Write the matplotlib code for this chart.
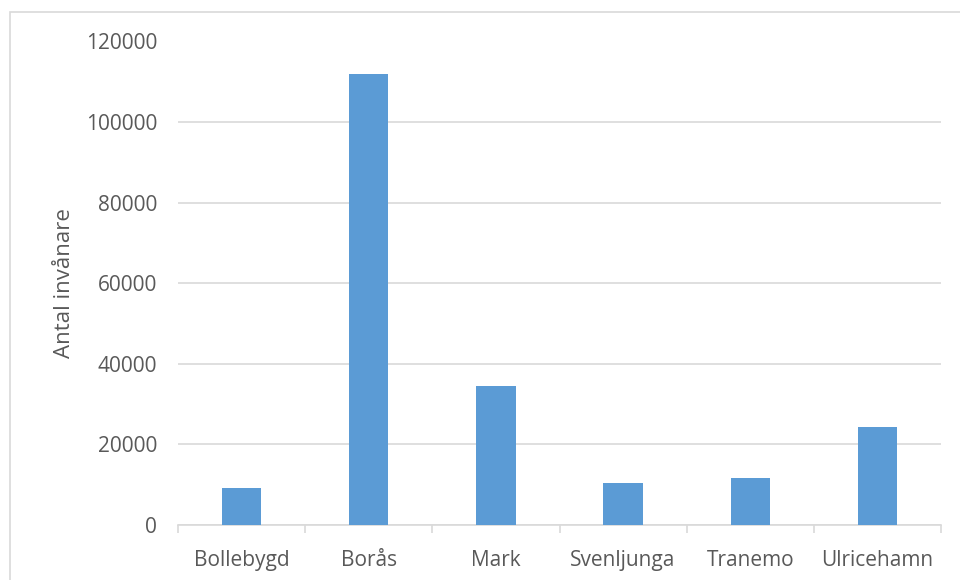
import matplotlib

matplotlib.use("Agg")

import matplotlib.pyplot as plt
import numpy as np
from matplotlib.patches import Rectangle

# Population per municipality
kommuner = ["Bollebygd", "Borås", "Mark", "Svenljunga", "Tranemo", "Ulricehamn"]
invanare = [9200, 112000, 34600, 10400, 11700, 24300]
yticks = [0, 20000, 40000, 60000, 80000, 100000, 120000]

TEXT = "#595959"
GRID = "#d9d9d9"
BAR = "#5b9bd5"

plt.rcParams["font.family"] = ["Open Sans", "DejaVu Sans"]

fig = plt.figure(figsize=(9.6, 5.8), dpi=100)
ax = fig.add_axes([178 / 960, 1 - 525 / 580, (941 - 178) / 960, (525 - 41.5) / 580])

# chart-area frame, only top and left edges fall inside the image
fig.patches.append(Rectangle((10 / 960, -0.1), 1.2, 1 - 12 / 580 + 0.1,
                             transform=fig.transFigure, fill=False,
                             edgecolor=GRID, linewidth=1.2))

x = np.arange(len(kommuner))
ax.bar(x, invanare, width=0.31, color=BAR, zorder=3)

ax.set_xlim(-0.5, len(kommuner) - 0.5)
ax.set_ylim(0, 120000)
ax.set_yticks(yticks)
ax.set_yticklabels([str(v) for v in yticks])
ax.grid(axis="y", color=GRID, linewidth=1.2, zorder=0)

ax.set_xticks(x)
ax.set_xticklabels(kommuner)
ax.tick_params(axis="x", length=0, pad=18, labelsize=15, labelcolor=TEXT)
ax.tick_params(axis="y", length=0, pad=15, labelsize=15, labelcolor=TEXT)

# category separators below the axis line
ax.set_xticks(np.arange(len(kommuner) + 1) - 0.5, minor=True)
ax.tick_params(axis="x", which="minor", length=6, color=GRID, width=1.2)

for side in ("top", "right", "left"):
    ax.spines[side].set_visible(False)
ax.spines["bottom"].set_color(GRID)
ax.spines["bottom"].set_linewidth(1.2)

ax.set_ylabel("Antal invånare", fontsize=16, color=TEXT, labelpad=8)

fig.savefig("out.png", dpi=100)
